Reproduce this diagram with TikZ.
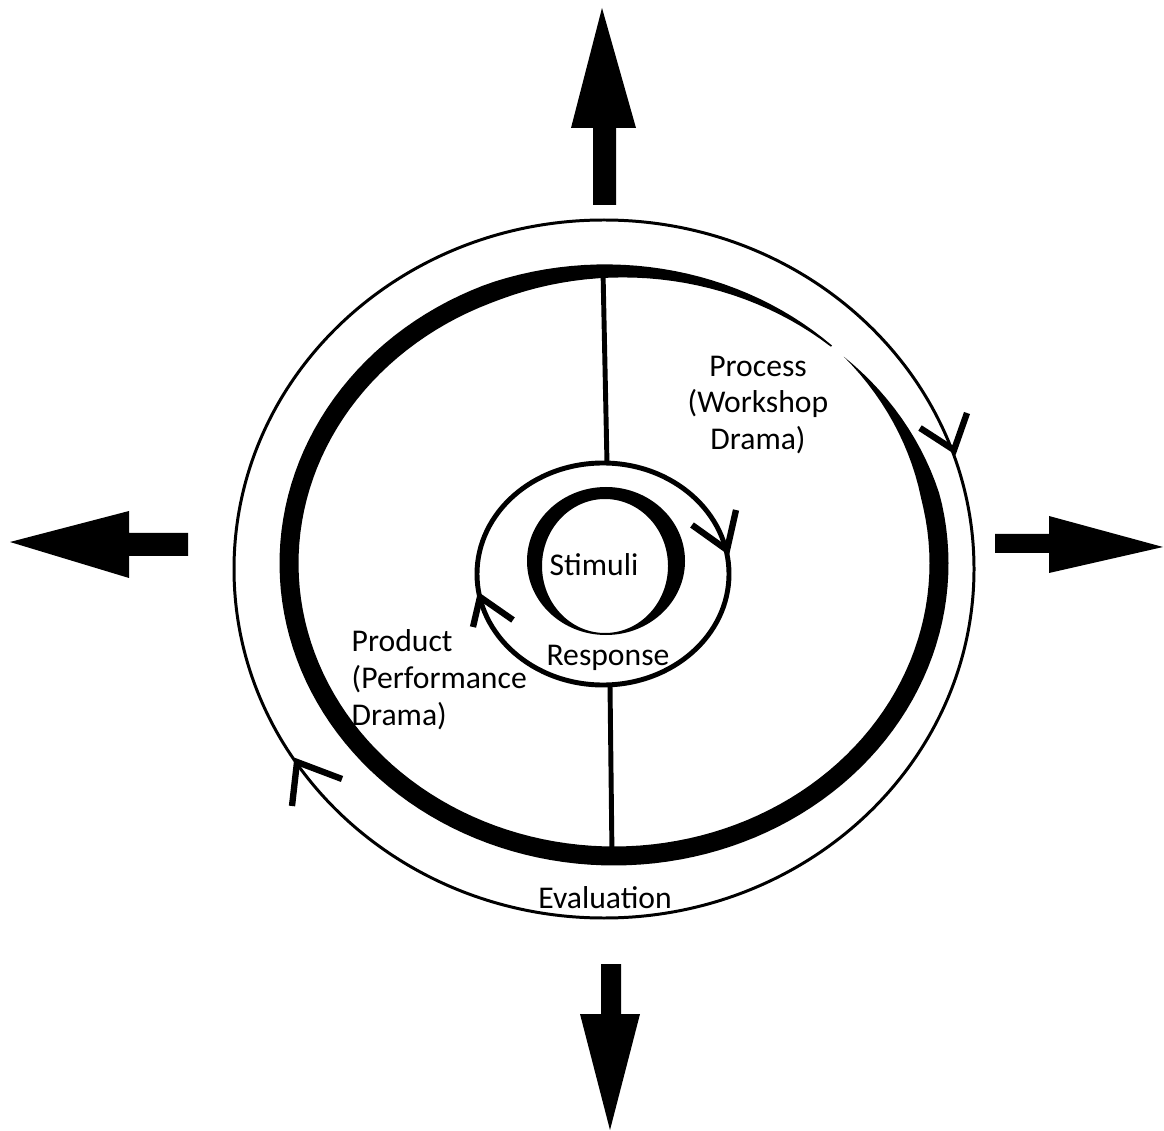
\documentclass[tikz,border=0pt]{standalone}
\usepackage{fontspec}
\setmainfont{Carlito}
\usetikzlibrary{calc}

\begin{document}
\begin{tikzpicture}[x=0.01cm,y=-0.01cm,
  ring/.style={line width=1.4pt},
  chev/.style={line width=1.8pt,line join=miter},
  lbl/.style={inner sep=0pt,font=\fontsize{9}{10.5}\selectfont},
  declare function={bw(\t)=19*min(1,(45-\t)/32)*min(1,(\t+318)/70);}]
\useasboundingbox (0,0) rectangle (1164,1131);
% outer cycle with its two ticks
\draw[line width=0.85pt] (604,569) ellipse [x radius=370, y radius=349];
\draw[chev] (920,428) -- (954,450) -- (967,413);
\draw[chev] (342,779) -- (297,762) -- (292,806);
% brush stroke (process -> evaluation -> product)
\fill plot[domain=45:-312,samples=160,variable=\t]
   ({614+(325+bw(\t)/2)*cos(\t)},{563.5-(292.5+bw(\t)/2)*sin(\t)})
  -- plot[domain=-312:45,samples=160,variable=\t]
   ({614+(325-bw(\t)/2)*cos(\t)},{563.5-(292.5-bw(\t)/2)*sin(\t)}) -- cycle;
% inner cycle with its two ticks
\draw[ring] (603,574) ellipse [x radius=126, y radius=111];
\draw[chev] (692,525) -- (727,550) -- (736,510);
\draw[chev] (513,620) -- (480,597) -- (473,627);
% crescent round the stimuli
\fill[even odd rule] (606,561) ellipse [x radius=79, y radius=74]
  (605,566) ellipse [x radius=63, y radius=67];
% spokes
\coordinate (brushtop) at (603,271);
\coordinate (ringtop) at (607,464);
\coordinate (ringbot) at (610,685);
\coordinate (brushbot) at (612,856);
\draw[ring] (brushtop) -- (ringtop);
\draw[ring] (ringbot) -- (brushbot);
% labels
\node[lbl] (stimuli) at (594,565) {Stimuli};
\node[lbl,anchor=base] (response) at (608,665) {Response};
\node[lbl,anchor=base] (evaluation) at (605,908) {Evaluation};
\node[lbl,align=center] (process) at (758,405) {Process\\(Workshop\\Drama)};
\node[lbl,align=left,anchor=west] (product) at (351,680) {Product\\(Performance\\Drama)};
% four big arrows
\fill (593,205) -- (593,128) -- (571,128) -- (602,8) -- (636,128) -- (616,128) -- (616,205) -- cycle;
\fill (601,964) -- (621,964) -- (621,1014) -- (640,1014) -- (610,1130) -- (580,1014) -- (601,1014) -- cycle;
\fill (188,533) -- (129,533) -- (129,511) -- (10,542) -- (129,578) -- (129,556) -- (188,556) -- cycle;
\fill (995,534) -- (1049,534) -- (1049,516) -- (1163,547) -- (1049,573) -- (1049,553) -- (995,553) -- cycle;
\end{tikzpicture}
\end{document}
